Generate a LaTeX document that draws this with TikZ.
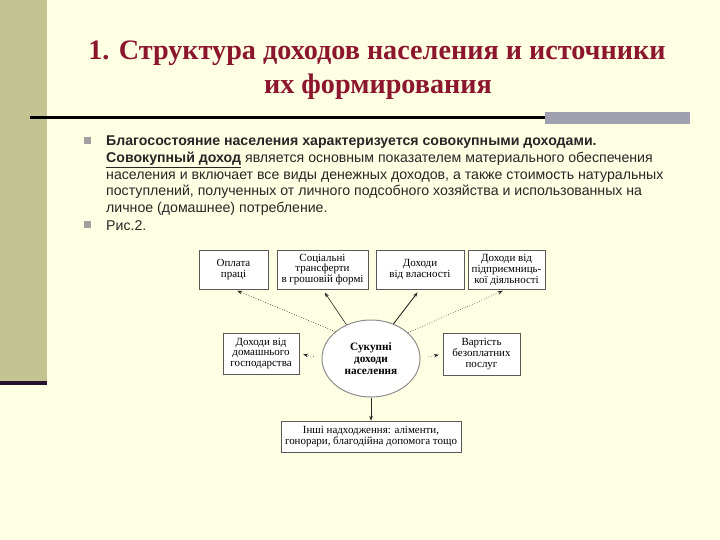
\documentclass[tikz,border=0pt]{standalone}
\usepackage{fontspec}
\setmainfont{Liberation Serif}
\newfontfamily\arialf{Liberation Sans}
\usetikzlibrary{arrows.meta,shapes.geometric}
\definecolor{bgc}{RGB}{255,255,227}
\definecolor{barc}{RGB}{196,196,146}
\definecolor{bardark}{RGB}{40,16,48}
\definecolor{titlec}{RGB}{140,22,46}
\definecolor{graybar}{RGB}{160,160,176}
\definecolor{bulletc}{RGB}{160,160,160}
\begin{document}
\begin{tikzpicture}[x=1bp,y=-1bp,
  box/.style={draw=black!65, fill=white, line width=0.5pt, inner sep=0pt, align=center,
    font=\fontsize{11}{11}\selectfont},
  oval/.style={ellipse, draw=black!45, fill=white, line width=1pt, inner sep=0pt, align=center,
    font=\bfseries\fontsize{11.3}{12}\selectfont, minimum width=98bp, minimum height=77bp},
  conn/.style={-{Stealth[length=5bp,width=3.6bp]}, line width=0.6pt, black!85},
  dotconn/.style={conn, dotted},
  titlestyle/.style={text=titlec, font=\bfseries\fontsize{28.3}{30}\selectfont, inner sep=0pt},
  bodystyle/.style={font=\arialf\fontsize{14.2}{16.6}\selectfont, align=left, inner sep=0pt, text=black!85}
]
\useasboundingbox (0,0) rectangle (720,540);
\fill[bgc] (0,0) rectangle (720,540);
% left bar
\fill[barc] (0,0) rectangle (47,381);
\fill[bardark] (0,381) rectangle (47,385);
% title rule
\draw[line width=3bp, black] (30,118) -- (545,118);
\fill[graybar] (545,112) rectangle (690,124);
% title
\node[titlestyle] (t1) at (377,53) {1. Структура доходов населения и источники};
\node[titlestyle] (t2) at (378,87) {их формирования};
% bullets
\fill[bulletc] (84,137) rectangle (91,144);
\fill[bulletc] (84,221) rectangle (91,228);
% body text
\node[bodystyle, anchor=north west] (body) at (106,136) {\textbf{Благосостояние населения характеризуется совокупными доходами.}\\
\textbf{\underline{Совокупный доход}} является основным показателем материального обеспечения\\
населения и включает все виды денежных доходов, а также стоимость натуральных\\
поступлений, полученных от личного подсобного хозяйства и использованных на\\
личное (домашнее) потребление.};
\node[bodystyle, anchor=west] (fig) at (106,226) {Рис.2.};
% diagram
\node[box, minimum width=69bp, minimum height=39bp] (b1) at (233.5,269.5) {Оплата\\праці};
\node[box, minimum width=91bp, minimum height=39bp] (b2) at (322.5,269.5) {Соціальні\\трансферти\\в грошовій формі};
\node[box, minimum width=88bp, minimum height=39bp] (b3) at (420,269.5) {Доходи\\від власності};
\node[box, minimum width=77bp, minimum height=39bp] (b4) at (506.5,269.5) {Доходи від\\підприємниць-\\кої діяльності};
\node[box, minimum width=76bp, minimum height=41bp] (b5) at (261,353.5) {Доходи від\\домашнього\\господарства};
\node[box, minimum width=77bp, minimum height=42bp] (b7) at (481.5,354) {Вартість\\безоплатних\\послуг};
\node[box, minimum width=180bp, minimum height=31bp] (b8) at (371,436.5) {Інші надходження: аліменти,\\гонорари, благодійна допомога тощо};
\node[oval] (E) at (371,358.5) {Сукупні\\доходи\\населення};
% connectors
\draw[dotconn, shorten >=4bp] (E.143) -- (b1.south);
\draw[conn, shorten >=4bp] (E.126) -- (b2.south);
\draw[conn, line width=0.9pt, shorten >=4bp] (E.57) -- (b3.south);
\draw[dotconn, shorten >=4bp] (E.35) -- (b4.south);
\draw[dotconn, shorten <=8bp, shorten >=4bp] (E.west) -- (b5.east);
\draw[dotconn, shorten <=8bp, shorten >=4bp] (E.east) -- (b7.west);
\draw[conn] (E.south) -- (b8.north);
\end{tikzpicture}
\end{document}
